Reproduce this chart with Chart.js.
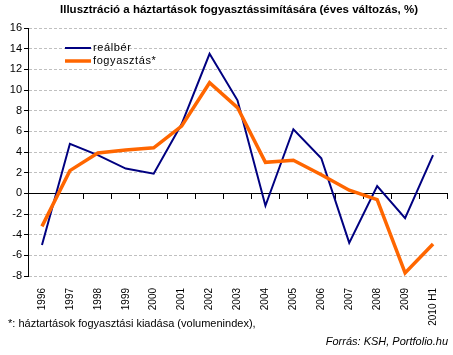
<!DOCTYPE html>
<html><head><meta charset="utf-8">
<script src="https://cdn.jsdelivr.net/npm/chart.js@4.4.1/dist/chart.umd.min.js"></script>
<style>html,body{margin:0;padding:0;background:#fff;}#wrap{width:453px;height:355px;position:relative;}</style>
</head><body><div id="wrap"><canvas id="c" width="453" height="355"></canvas></div>
<script>
const categories = ["1996","1997","1998","1999","2000","2001","2002","2003","2004","2005","2006","2007","2008","2009","2010 H1"];
const realber = [-5.0, 4.8, 3.7, 2.4, 1.9, 6.7, 13.5, 9.0, -1.2, 6.2, 3.4, -4.8, 0.7, -2.4, 3.7];
const fogyasztas = [-3.2, 2.2, 3.9, 4.2, 4.4, 6.5, 10.7, 8.3, 3.0, 3.2, 1.8, 0.3, -0.6, -7.7, -4.9];
const yTicks = [-8,-6,-4,-2,0,2,4,6,8,10,12,14,16];
const title = "Illusztráció a háztartások fogyasztássimítására (éves változás, %)";
const footnote = "*: háztartások fogyasztási kiadása (volumenindex),";
const source = "Forrás: KSH, Portfolio.hu";
const seriesNames = ["reálbér","fogyasztás*"];
const F = "'Liberation Sans', Arial, sans-serif";

const extras = {
  id: 'extras',
  afterDraw(chart) {
    const ctx = chart.ctx, a = chart.chartArea;
    ctx.save();
    ctx.fillStyle = '#000';
    ctx.font = "bold 11.5px " + F;
    ctx.textAlign = 'center'; ctx.textBaseline = 'middle';
    ctx.fillText(title, 239, 10);
    // legend
    const ds = chart.data.datasets;
    ctx.textAlign = 'left';
    ctx.font = "11px " + F;
    ds.forEach((d, i) => {
      const y = 48 + i * 13;
      ctx.strokeStyle = d.borderColor; ctx.lineWidth = d.borderWidth;
      ctx.beginPath(); ctx.moveTo(65, y); ctx.lineTo(91, y); ctx.stroke();
      ctx.fillStyle = '#000';
      if (ctx.letterSpacing !== undefined) ctx.letterSpacing = '0.6px';
      ctx.fillText(d.label, 93, y);
      if (ctx.letterSpacing !== undefined) ctx.letterSpacing = '0px';
    });
    ctx.font = "11px " + F;
    ctx.textAlign = 'left';
    ctx.fillText(footnote, 8, 324);
    ctx.font = "italic 11px " + F;
    ctx.textAlign = 'right';
    ctx.fillText(source, 448, 342);
    ctx.restore();
  }
};

new Chart(document.getElementById('c'), {
  type: 'line',
  data: {
    labels: categories,
    datasets: [
      { label: seriesNames[0], data: realber, borderColor: '#000080', borderWidth: 2, pointRadius: 0, tension: 0, fill: false, order: 2 },
      { label: seriesNames[1], data: fogyasztas, borderColor: '#FF6600', borderWidth: 3.5, pointRadius: 0, tension: 0, fill: false, order: 1 }
    ]
  },
  plugins: [extras],
  options: {
    responsive: false,
    animation: false,
    layout: { padding: { left: 0, right: 6, top: 28, bottom: 0 } },
    plugins: { legend: { display: false }, title: { display: false }, tooltip: { enabled: false } },
    scales: {
      x: {
        type: 'category', offset: true, position: 'bottom',
        grid: { display: false },
        border: { display: false },
        ticks: { minRotation: 90, maxRotation: 90, autoSkip: false, color: '#000', font: { family: F, size: 10 }, padding: 4 },
        afterFit(s) { s.height = 79; }
      },
      x0: {
        type: 'category', offset: true, position: { y: 0 }, labels: categories,
        grid: { display: true, drawOnChartArea: false, drawTicks: true, tickLength: 5, color: '#000', offset: true },
        border: { display: true, color: '#000', width: 1 },
        ticks: { display: false }
      },
      y: {
        min: -8, max: 16,
        afterBuildTicks(s) { s.ticks = yTicks.map(v => ({ value: v })); },
        grid: { color: '#c0c0c0', lineWidth: 1, tickColor: '#000', tickLength: 4, drawTicks: true },
        border: { display: true, color: '#000', width: 1, dash: [3, 2] },
        ticks: { color: '#000', font: { family: F, size: 11 }, padding: 2 },
        afterFit(s) { s.width = 28; }
      }
    }
  }
});
</script></body></html>
